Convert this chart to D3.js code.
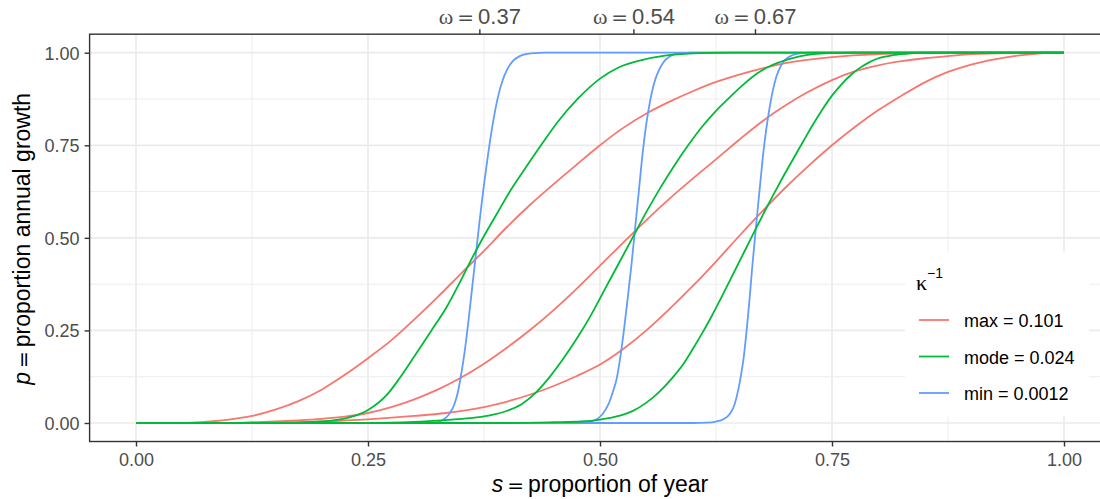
<!DOCTYPE html>
<html>
<head>
<meta charset="utf-8">
<script src="https://cdn.jsdelivr.net/npm/d3@7"></script>
<style>
  html, body { margin: 0; padding: 0; background: #fff; }
  svg { display: block; font-family: "Liberation Sans", Arial, sans-serif; }
</style>
</head>
<body>
<svg id="chart" width="1100" height="499"></svg>
<script>
// ---- data --------------------------------------------------------------
// timing parameter ω (onset of growth), shown on the top axis
const omegaValues = [0.37, 0.536, 0.667];
// dispersion groups (κ^-1) in legend order
const kappaLabels = ["max = 0.101", "mode = 0.024", "min = 0.0012"];
const kappaColors = ["#F8766D", "#00BA38", "#619CFF"];
const yTicks = [0, 0.25, 0.5, 0.75, 1];
const xTicks = [0, 0.25, 0.5, 0.75, 1];

// cumulative growth p(s), pairs of [s, p]
const maxOmega1 = [[0,0],[0.04,0],[0.06,0.001],[0.08,0.004],[0.1,0.009],[0.125,0.019],[0.15,0.036],[0.175,0.059],[0.2,0.09],[0.225,0.13],[0.25,0.175],[0.275,0.223],[0.3,0.28],[0.325,0.34],[0.35,0.403],[0.375,0.465],[0.4,0.53],[0.425,0.59],[0.45,0.645],[0.475,0.698],[0.5,0.75],[0.525,0.797],[0.55,0.836],[0.575,0.868],[0.6,0.896],[0.625,0.921],[0.65,0.941],[0.675,0.958],[0.7,0.972],[0.75,0.988],[0.8,0.996],[0.85,0.999],[0.9,1],[1,1]];
const maxOmega2 = [[0,0],[0.1,0],[0.125,0.002],[0.15,0.004],[0.175,0.007],[0.2,0.011],[0.225,0.017],[0.25,0.027],[0.275,0.043],[0.3,0.064],[0.325,0.09],[0.35,0.122],[0.375,0.16],[0.4,0.204],[0.425,0.252],[0.45,0.305],[0.475,0.363],[0.5,0.425],[0.525,0.487],[0.55,0.548],[0.575,0.606],[0.6,0.66],[0.625,0.712],[0.65,0.765],[0.675,0.815],[0.7,0.858],[0.725,0.895],[0.75,0.926],[0.775,0.95],[0.8,0.966],[0.825,0.977],[0.85,0.985],[0.875,0.991],[0.9,0.996],[0.95,0.999],[1,1]];
const maxOmega3 = [[0,0],[0.15,0],[0.2,0.004],[0.25,0.01],[0.3,0.019],[0.334,0.027],[0.375,0.043],[0.4,0.058],[0.425,0.077],[0.45,0.1],[0.475,0.127],[0.5,0.158],[0.525,0.2],[0.55,0.25],[0.575,0.308],[0.6,0.37],[0.625,0.436],[0.65,0.505],[0.675,0.572],[0.7,0.636],[0.725,0.695],[0.75,0.75],[0.775,0.8],[0.8,0.845],[0.825,0.884],[0.85,0.92],[0.875,0.948],[0.9,0.968],[0.925,0.982],[0.95,0.992],[0.975,0.998],[1,1]];

const modeOmega1 = [[0,0],[0.14,0],[0.17,0.001],[0.2,0.004],[0.23,0.015],[0.25,0.035],[0.27,0.075],[0.2838,0.12],[0.3,0.18],[0.3197,0.255],[0.334,0.31],[0.348,0.375],[0.361,0.44],[0.375,0.505],[0.39,0.57],[0.404,0.63],[0.42,0.69],[0.4364,0.75],[0.455,0.815],[0.4759,0.875],[0.5,0.93],[0.52,0.96],[0.545,0.98],[0.57,0.992],[0.6,0.998],[0.64,1],[1,1]];
const modeOmega2 = [[0,0],[0.25,0],[0.3,0.003],[0.334,0.008],[0.36,0.013],[0.38,0.02],[0.4,0.033],[0.415,0.05],[0.43,0.08],[0.445,0.122],[0.46,0.172],[0.475,0.228],[0.49,0.29],[0.505,0.36],[0.52,0.43],[0.535,0.5],[0.55,0.57],[0.565,0.635],[0.58,0.695],[0.595,0.75],[0.61,0.8],[0.625,0.843],[0.64,0.88],[0.655,0.915],[0.67,0.945],[0.685,0.966],[0.7,0.98],[0.715,0.99],[0.73,0.996],[0.75,0.999],[0.77,1],[1,1]];
const modeOmega3 = [[0,0],[0.4,0],[0.45,0.002],[0.48,0.004],[0.5,0.009],[0.52,0.019],[0.535,0.032],[0.55,0.055],[0.565,0.087],[0.578,0.122],[0.59,0.16],[0.6,0.2],[0.61,0.242],[0.62,0.287],[0.63,0.335],[0.64,0.385],[0.65,0.435],[0.66,0.485],[0.67,0.535],[0.68,0.584],[0.69,0.631],[0.7,0.677],[0.71,0.721],[0.72,0.765],[0.73,0.808],[0.74,0.848],[0.75,0.884],[0.76,0.914],[0.77,0.939],[0.78,0.959],[0.79,0.974],[0.8,0.985],[0.815,0.993],[0.83,0.997],[0.85,1],[1,1]];

const minOmega1 = [[0,0],[0.31,0],[0.32,0.001],[0.327,0.004],[0.333,0.012],[0.338,0.026],[0.343,0.05],[0.347,0.085],[0.35,0.125],[0.354,0.19],[0.358,0.27],[0.362,0.36],[0.366,0.45],[0.37,0.54],[0.374,0.625],[0.378,0.7],[0.382,0.77],[0.386,0.83],[0.39,0.88],[0.395,0.925],[0.4,0.955],[0.406,0.977],[0.413,0.99],[0.42,0.996],[0.43,0.999],[0.44,1],[1,1]];
const minOmega2 = [[0,0],[0.47,0],[0.485,0.002],[0.495,0.008],[0.503,0.025],[0.509,0.05],[0.514,0.085],[0.518,0.12],[0.522,0.18],[0.526,0.255],[0.53,0.34],[0.534,0.43],[0.538,0.53],[0.542,0.63],[0.546,0.73],[0.55,0.81],[0.554,0.87],[0.558,0.915],[0.563,0.95],[0.568,0.973],[0.575,0.99],[0.585,0.998],[0.6,1],[1,1]];
const minOmega3 = [[0,0],[0.6,0],[0.615,0.001],[0.625,0.004],[0.633,0.01],[0.64,0.025],[0.645,0.05],[0.649,0.09],[0.652,0.13],[0.655,0.18],[0.658,0.25],[0.661,0.33],[0.664,0.42],[0.667,0.5],[0.67,0.58],[0.673,0.655],[0.676,0.73],[0.679,0.79],[0.682,0.84],[0.686,0.895],[0.69,0.935],[0.695,0.965],[0.7,0.982],[0.707,0.993],[0.715,0.998],[0.73,1],[1,1]];

const curveGroups = [
  [maxOmega1, maxOmega2, maxOmega3],
  [modeOmega1, modeOmega2, modeOmega3],
  [minOmega1, minOmega2, minOmega3]
];
// drawing order of the κ groups (bottom to top)
const drawOrder = [0, 2, 1];

// ---- layout --------------------------------------------------------------
const svg = d3.select("#chart");
const x = d3.scaleLinear().domain([0, 1]).range([136, 1064]);
const y = d3.scaleLinear().domain([0, 1]).range([423, 52.7]);
const px0 = x(-0.05), px1 = x(1.05), py0 = y(1.05), py1 = y(-0.05);

const textGrey = "#4D4D4D";
const gridCol = "#EBEBEB";
const sans = "Liberation Sans, Arial, sans-serif";
const serif = "Liberation Serif, Times New Roman, serif";
const symbolFont = "DejaVu Sans, sans-serif";

svg.append("defs").append("clipPath").attr("id", "panel-clip")
  .append("rect").attr("x", px0).attr("y", py0)
  .attr("width", px1 - px0).attr("height", py1 - py0);

const panel = svg.append("g").attr("clip-path", "url(#panel-clip)");

// grid: minor then major
const minorBreaks = [0.125, 0.375, 0.625, 0.875];
panel.selectAll(".gminx").data(minorBreaks).join("line")
  .attr("x1", d => x(d)).attr("x2", d => x(d)).attr("y1", py0).attr("y2", py1)
  .attr("stroke", gridCol).attr("stroke-width", 0.9);
panel.selectAll(".gminy").data(minorBreaks).join("line")
  .attr("x1", px0).attr("x2", px1).attr("y1", d => y(d)).attr("y2", d => y(d))
  .attr("stroke", gridCol).attr("stroke-width", 0.9);
panel.selectAll(".gmajx").data(xTicks).join("line")
  .attr("x1", d => x(d)).attr("x2", d => x(d)).attr("y1", py0).attr("y2", py1)
  .attr("stroke", gridCol).attr("stroke-width", 1.7);
panel.selectAll(".gmajy").data(yTicks).join("line")
  .attr("x1", px0).attr("x2", px1).attr("y1", d => y(d)).attr("y2", d => y(d))
  .attr("stroke", gridCol).attr("stroke-width", 1.7);

// curves
const line = d3.line().x(d => x(d[0])).y(d => y(d[1])).curve(d3.curveMonotoneX);
drawOrder.forEach(gi => {
  curveGroups[gi].forEach(series => {
    panel.append("path").datum(series)
      .attr("d", line)
      .attr("fill", "none")
      .attr("stroke", kappaColors[gi])
      .attr("stroke-width", 1.8)
      .attr("stroke-linejoin", "round");
  });
});

// panel border
svg.append("rect").attr("x", px0).attr("y", py0)
  .attr("width", px1 - px0).attr("height", py1 - py0)
  .attr("fill", "none").attr("stroke", "#333333").attr("stroke-width", 1.4);

// ---- axes ----------------------------------------------------------------
function styleAxis(g) {
  g.select(".domain").remove();
  g.selectAll(".tick line").attr("stroke", "#333333").attr("stroke-width", 1.4);
  g.selectAll(".tick text").attr("fill", textGrey).attr("font-family", sans);
}

svg.append("g").attr("transform", `translate(${px0},0)`)
  .call(d3.axisLeft(y).tickValues(yTicks).tickFormat(d3.format(".2f")).tickSize(5).tickPadding(5))
  .call(styleAxis)
  .selectAll(".tick text").attr("font-size", 18).attr("dy", "0.36em");

svg.append("g").attr("transform", `translate(0,${py1})`)
  .call(d3.axisBottom(x).tickValues(xTicks).tickFormat(d3.format(".2f")).tickSize(5).tickPadding(6))
  .call(styleAxis)
  .selectAll(".tick text").attr("font-size", 18).attr("dy", "0.75em");

// top axis with ω labels
const topAxis = svg.append("g").attr("transform", `translate(0,${py0})`)
  .call(d3.axisTop(x).tickValues(omegaValues).tickFormat("").tickSize(5))
  .call(styleAxis);
const fmt2 = d3.format(".2f");
topAxis.selectAll(".tick").each(function (d) {
  const t = d3.select(this).append("text")
    .attr("y", -10).attr("text-anchor", "middle")
    .attr("fill", textGrey).attr("font-size", 22);
  t.append("tspan").attr("font-family", serif).text("ω");
  t.append("tspan").attr("font-family", symbolFont).attr("font-size", 20).text("\u2009=\u2009");
  t.append("tspan").attr("font-family", sans).text(fmt2(d));
});

// axis titles
const xt = svg.append("text").attr("x", (px0 + px1) / 2).attr("y", 491.7)
  .attr("text-anchor", "middle").attr("font-size", 23).attr("fill", "#000");
xt.append("tspan").attr("font-style", "italic").text("s");
xt.append("tspan").attr("font-family", symbolFont).attr("font-size", 20).text("\u2009=\u2009");
xt.append("tspan").text("proportion of year");

const yt = svg.append("text")
  .attr("transform", `translate(30,${(py0 + py1) / 2 + 1}) rotate(-90)`)
  .attr("text-anchor", "middle").attr("font-size", 23).attr("fill", "#000");
yt.append("tspan").attr("font-style", "italic").text("p");
yt.append("tspan").attr("font-family", symbolFont).attr("font-size", 20).text("\u2009=\u2009");
yt.append("tspan").text("proportion annual growth");

// ---- legend --------------------------------------------------------------
const lg = svg.append("g");
lg.append("rect").attr("x", 905).attr("y", 252).attr("width", 184).attr("height", 164)
  .attr("fill", "#fff");
const lt = lg.append("text").attr("x", 916).attr("y", 290).attr("fill", "#000");
lt.append("tspan").attr("font-family", serif).attr("font-size", 22).text("κ");
lt.append("tspan").attr("font-size", 14).attr("dy", -12).text("\u22121");

const rowY = d3.scalePoint().domain(kappaLabels).range([320, 393]);
kappaLabels.forEach((lab, i) => {
  lg.append("line").attr("x1", 919).attr("x2", 949)
    .attr("y1", rowY(lab)).attr("y2", rowY(lab))
    .attr("stroke", kappaColors[i]).attr("stroke-width", 1.8);
  lg.append("text").attr("x", 964).attr("y", rowY(lab) + 7)
    .attr("font-size", 18).attr("fill", "#000").text(lab);
});
</script>
</body>
</html>
